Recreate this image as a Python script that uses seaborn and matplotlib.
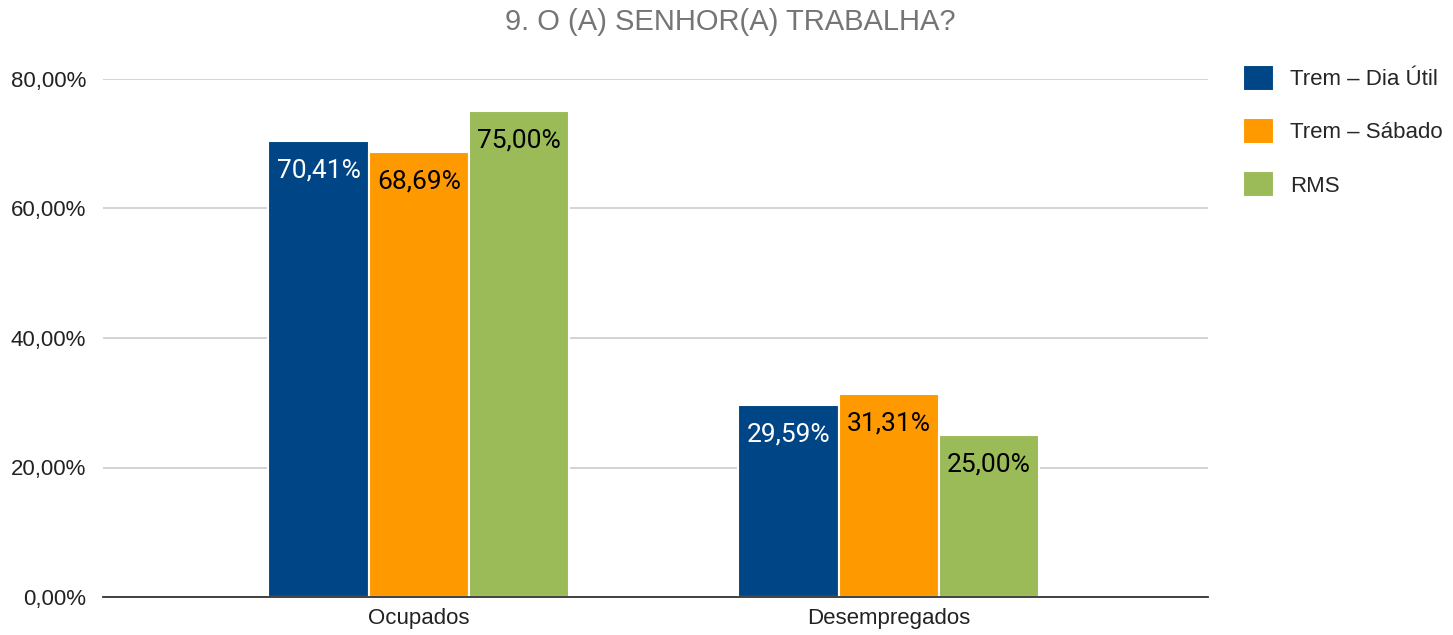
"""
Bar chart: 9. O (A) SENHOR(A) TRABALHA?
"""

import pandas as pd
import matplotlib
matplotlib.use("Agg")
import matplotlib.pyplot as plt
from matplotlib.ticker import FuncFormatter
import seaborn as sns

categories = ["Ocupados", "Desempregados"]
series_names = ["Trem – Dia Útil", "Trem – Sábado", "RMS"]
dia_util = [70.41, 29.59]
sabado = [68.69, 31.31]
rms = [75.00, 25.00]
yticks = [0, 20, 40, 60, 80]

colors = {"Trem – Dia Útil": "#004586", "Trem – Sábado": "#ff9900", "RMS": "#9bbb59"}
label_colors = {"Trem – Dia Útil": "white", "Trem – Sábado": "black", "RMS": "black"}


def build_frame():
    rows = []
    for name, values in zip(series_names, [dia_util, sabado, rms]):
        for cat, v in zip(categories, values):
            rows.append({"categoria": cat, "serie": name, "valor": v})
    return pd.DataFrame(rows)


def fmt_pct(v, pos=None):
    return f"{v:.2f}%".replace(".", ",")


def main():
    df = build_frame()

    sns.set_style("white")
    plt.rcParams["font.family"] = ["Liberation Sans", "DejaVu Sans"]

    fig = plt.figure(figsize=(14.53, 6.35), dpi=100)
    ax = fig.add_axes([103 / 1453, 1 - 597 / 635, (1208 - 103) / 1453, (597 - 79) / 635])

    sns.barplot(
        data=df, x="categoria", y="valor", hue="serie",
        hue_order=series_names, order=categories,
        palette=colors, width=0.64, edgecolor="white", linewidth=1.5,
        saturation=1, ax=ax
    )

    handles, labels = ax.get_legend_handles_labels()
    ax.get_legend().remove()

    # labels inside the top of each bar
    for name, container in zip(series_names, ax.containers):
        for bar in container:
            h = bar.get_height()
            ax.annotate(
                fmt_pct(h),
                (bar.get_x() + bar.get_width() / 2, h),
                xytext=(0, -21), textcoords="offset points",
                ha="center", va="center", fontsize=19,
                family=["Roboto", "DejaVu Sans"],
                color=label_colors[name]
            )

    ax.set_xlim(-0.672, 1.679)
    ax.set_ylim(0, 80)
    ax.set_yticks(yticks)
    ax.yaxis.set_major_formatter(FuncFormatter(fmt_pct))
    ax.grid(axis="y", color="#cccccc", linewidth=1.2)
    ax.set_axisbelow(True)
    for side in ["top", "right", "left"]:
        ax.spines[side].set_visible(False)
    ax.spines["bottom"].set_color("#333333")
    ax.spines["bottom"].set_linewidth(1.3)
    ax.tick_params(axis="both", length=0, labelsize=16, colors="#222222", pad=8)
    ax.tick_params(axis="y", pad=12)
    ax.set_xlabel("")
    ax.set_ylabel("")

    fig.text(730 / 1453, 1 - 22 / 635, "9. O (A) SENHOR(A) TRABALHA?",
             ha="center", va="center", fontsize=21, color="#757575")

    fig.legend(
        handles, labels, loc="upper left",
        bbox_to_anchor=(1243 / 1453, 1 - 65 / 635),
        frameon=False, fontsize=16, borderpad=0, borderaxespad=0,
        handlelength=1.4, handleheight=1.4, handletextpad=0.72,
        labelspacing=1.24
    )

    fig.savefig("out.png", dpi=100)


if __name__ == "__main__":
    main()
